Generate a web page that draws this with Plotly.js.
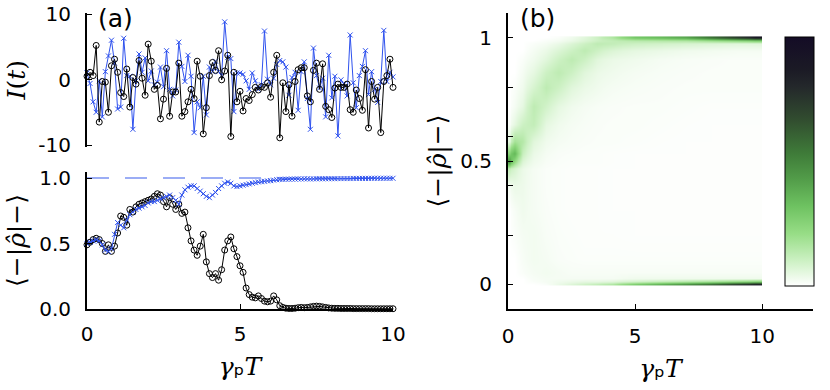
<!DOCTYPE html>
<html>
<head>
<meta charset="utf-8">
<script src="https://cdn.plot.ly/plotly-3.0.1.min.js"></script>
<style>html,body{margin:0;padding:0;background:#fff;}#chart{width:830px;height:390px;}</style>
</head>
<body>
<div id="chart"></div>
<script>
// ---- sample times (gamma_p T) ----
const tGrid = [0,0.1,0.2,0.3,0.4,0.5,0.6,0.7,0.8,0.9,1,1.1,1.2,1.3,1.4,1.5,1.6,1.7,1.8,1.9,2,2.1,2.2,2.3,2.4,2.5,2.6,2.7,2.8,2.9,3,3.1,3.2,3.3,3.4,3.5,3.6,3.7,3.8,3.9,4,4.1,4.2,4.3,4.4,4.5,4.6,4.7,4.8,4.9,5,5.1,5.2,5.3,5.4,5.5,5.6,5.7,5.8,5.9,6,6.1,6.2,6.3,6.4,6.5,6.6,6.7,6.8,6.9,7,7.1,7.2,7.3,7.4,7.5,7.6,7.7,7.8,7.9,8,8.1,8.2,8.3,8.4,8.5,8.6,8.7,8.8,8.9,9,9.1,9.2,9.3,9.4,9.5,9.6,9.7,9.8,9.9,10];

// ---- panel (a) top: measurement current I(t) ----
const currentBlack = [0.5,1.1,0.6,5.2,-6.5,-0.3,-0.4,-5.0,2.1,3.1,1.1,-2.0,-2.6,1.6,-4.2,0.3,-0.7,2.9,0.2,-2.4,5.4,2.8,-1.5,-0.9,-6.0,-3.0,1.7,-5.6,-1.9,-1.9,2.5,-5.6,-4.9,-3.4,-1.5,-2.9,2.8,0.5,-8.3,-4.3,0.6,2.6,1.4,4.4,-0.05,1.3,3.7,-8.7,1.1,-3.4,-1.8,-4.8,-2.9,-3.2,-2.3,-1.2,-1.6,-1.1,-1.2,-0.5,-2.7,1.1,3.7,-8.9,-0.5,-4.9,-0.8,-5.6,-0.3,1.5,1.8,1.8,-2.5,-3.4,1.4,2.5,-1.5,2.4,-4.1,-4.6,-5.8,-1.3,-0.7,-1.2,-1.2,-0.7,-4.6,-5.0,-1.6,-2.9,-4.7,1.5,-7.4,-0.3,-3.0,-1.2,-8.1,-0.3,0.6,3.1,-1.2];
const currentBlue = [1.0,-0.6,-3.4,-5.0,-0.2,-5.7,1.2,3.6,6.0,2.5,-4.5,-4.2,6.3,0.6,0.5,-7.6,-0.2,3.9,1.1,3.3,-0.2,1.3,-0.8,-0.4,1.9,-1.1,4.4,-1.5,-2.5,-1.6,5.7,2.0,-0.3,3.7,0.5,-8.1,-3.4,-4.3,0.5,-5.4,1.9,1.2,2.8,1.2,0.6,8.8,3.4,3.2,-4.9,1.0,1.0,0.8,-0.2,-1.5,1.0,-0.2,-1.5,-0.8,7.4,0.05,-0.8,0.2,2.3,2.9,2.7,1.9,-2.4,0.3,1.1,-4.7,1.2,2.7,-2.9,-7.6,4.8,0.6,-1.3,0.2,-5.7,3.7,-2.8,0.5,-8.6,-0.05,-0.7,-2.5,6.8,-0.5,-4.3,0.6,2.0,4.4,-2.3,1.2,-1.5,-3.5,-0.3,7.5,-0.3,1.1,0.4];

// ---- panel (a) bottom: <-|rho|-> trajectories ----
const popBlack = [0.49,0.51,0.53,0.54,0.53,0.50,0.44,0.49,0.44,0.48,0.58,0.71,0.70,0.64,0.76,0.74,0.78,0.80,0.81,0.82,0.83,0.84,0.86,0.88,0.87,0.82,0.78,0.85,0.80,0.76,0.80,0.73,0.74,0.62,0.52,0.45,0.41,0.48,0.57,0.36,0.27,0.24,0.27,0.22,0.30,0.45,0.52,0.55,0.46,0.40,0.33,0.28,0.16,0.11,0.09,0.085,0.10,0.08,0.06,0.055,0.06,0.10,0.07,0.025,0.012,0.006,0.004,0.004,0.006,0.01,0.012,0.01,0.012,0.016,0.02,0.022,0.02,0.016,0.012,0.008,0.006,0.005,0.005,0.004,0.004,0.004,0.004,0.003,0.003,0.003,0.003,0.003,0.003,0.002,0.002,0.002,0.002,0.002,0.002,0.002,0.002];
const popBlue = [0.50,0.51,0.52,0.53,0.52,0.49,0.45,0.44,0.46,0.57,0.66,0.64,0.62,0.68,0.72,0.74,0.76,0.77,0.78,0.79,0.81,0.82,0.82,0.83,0.84,0.85,0.86,0.87,0.85,0.83,0.80,0.87,0.91,0.93,0.94,0.94,0.92,0.90,0.88,0.86,0.85,0.87,0.89,0.92,0.94,0.96,0.97,0.96,0.94,0.935,0.94,0.945,0.95,0.955,0.96,0.965,0.97,0.972,0.975,0.978,0.98,0.984,0.987,0.99,0.99,0.991,0.991,0.992,0.992,0.993,0.993,0.994,0.994,0.993,0.994,0.994,0.995,0.994,0.995,0.995,0.995,0.995,0.996,0.996,0.996,0.996,0.996,0.997,0.997,0.997,0.997,0.997,0.997,0.998,0.998,0.998,0.998,0.998,0.998,0.998,0.998];
const targetLevel = 1.0;

// ---- panel (b): distribution of <-|rho|-> over time (time-bin edges, 16 bins) ----
const histTEdges = [0,0.125,0.375,0.75,1.25,1.75,2.25,2.75,3.25,3.75,4.5,5.5,6.5,7.5,8.5,9.5,10];
const histY = [0,0.01,0.025,0.05,0.1,0.2,0.3,0.4,0.47,0.5,0.53,0.58,0.65,0.72,0.8,0.86,0.91,0.95,0.975,0.99,1.0];
const histZ = [
  [0,0,0,0,0.01,0.04,0.07,0.10,0.13,0.17,0.30,0.40,0.50,0.62,0.78,0.92],
  [0,0,0,0.01,0.02,0.03,0.04,0.05,0.05,0.06,0.09,0.12,0.15,0.18,0.22,0.26],
  [0,0,0,0.015,0.02,0.02,0.02,0.02,0.02,0.02,0.03,0.03,0.03,0.03,0.03,0.03],
  [0,0,0.01,0.02,0.025,0.02,0.015,0.015,0.015,0.015,0.015,0.015,0.015,0.015,0.015,0.015],
  [0,0,0.015,0.025,0.02,0.012,0.01,0.008,0.008,0.008,0.008,0.008,0.008,0.008,0.008,0.008],
  [0,0.01,0.02,0.025,0.015,0.01,0.008,0.006,0.006,0.006,0.005,0.005,0.005,0.005,0.005,0.005],
  [0,0.015,0.03,0.02,0.012,0.008,0.006,0.006,0.006,0.005,0.005,0.005,0.005,0.005,0.005,0.005],
  [0.02,0.04,0.035,0.02,0.01,0.008,0.006,0.006,0.006,0.005,0.005,0.005,0.005,0.005,0.005,0.005],
  [0.12,0.08,0.04,0.02,0.01,0.008,0.006,0.006,0.006,0.005,0.005,0.005,0.005,0.005,0.005,0.005],
  [0.45,0.22,0.07,0.03,0.015,0.01,0.008,0.008,0.008,0.006,0.005,0.005,0.005,0.005,0.005,0.005],
  [0.25,0.35,0.11,0.04,0.02,0.012,0.01,0.008,0.008,0.006,0.005,0.005,0.005,0.005,0.005,0.005],
  [0.05,0.18,0.15,0.06,0.03,0.02,0.015,0.012,0.01,0.01,0.008,0.006,0.005,0.005,0.005,0.005],
  [0.01,0.05,0.10,0.12,0.05,0.03,0.02,0.015,0.012,0.01,0.01,0.008,0.006,0.005,0.005,0.005],
  [0,0.02,0.05,0.13,0.09,0.05,0.03,0.02,0.015,0.012,0.01,0.01,0.008,0.006,0.006,0.006],
  [0,0.01,0.03,0.08,0.13,0.10,0.06,0.04,0.03,0.02,0.015,0.012,0.01,0.01,0.01,0.01],
  [0,0,0.02,0.05,0.10,0.13,0.10,0.06,0.04,0.03,0.02,0.015,0.012,0.01,0.01,0.01],
  [0,0,0.01,0.03,0.06,0.10,0.13,0.10,0.06,0.04,0.03,0.02,0.015,0.012,0.01,0.01],
  [0,0,0,0.02,0.04,0.07,0.10,0.13,0.10,0.07,0.05,0.04,0.03,0.025,0.02,0.02],
  [0,0,0,0.01,0.02,0.04,0.07,0.10,0.13,0.12,0.10,0.09,0.08,0.07,0.06,0.06],
  [0,0,0,0,0.01,0.02,0.04,0.07,0.10,0.12,0.14,0.15,0.16,0.20,0.24,0.28],
  [0,0,0,0,0,0.01,0.03,0.06,0.10,0.16,0.30,0.34,0.40,0.56,0.72,0.88]
];

// ---- tick labels ----
const topTickVals = [-10,0,10], topTickText = ['-10','0','10'];
const popTickVals = [0,0.5,1], popTickText = ['0.0','0.5','1.0'];
const timeTickVals = [0,5,10], timeTickText = ['0','5','10'];
const histTickVals = [0,0.5,1], histTickText = ['0','0.5','1'];
const histMinorVals = [0.2,0.4,0.6,0.8];

const W = 830, H = 390;
const blue = '#2f52ee', black = '#000000';
const tickFont = {family: 'DejaVu Sans, sans-serif', size: 20, color: '#000'};
const mathFont = {family: 'DejaVu Serif, serif', size: 25, color: '#000'};
const timeTitle = '<i>γ</i><span style="font-family:DejaVu Sans">ₚ</span><i>T</i>';

const green = [
  [0,'#ffffff'],[0.1,'#cdf1c4'],[0.21,'#97dd86'],[0.32,'#6ec261'],[0.43,'#529c49'],
  [0.53,'#3f7c39'],[0.67,'#314c2f'],[0.8,'#24282b'],[0.87,'#1b1a25'],[1,'#140c26']
];

const traces = [
  {x: tGrid, y: currentBlue, xaxis:'x', yaxis:'y', mode:'lines+markers', cliponaxis:false,
   line:{color: blue, width:1}, marker:{symbol:'x-thin-open', size:5, color: blue, line:{color: blue, width:1}}},
  {x: tGrid, y: currentBlack, xaxis:'x', yaxis:'y', mode:'lines+markers', cliponaxis:false,
   line:{color: black, width:1}, marker:{symbol:'circle-open', size:6, color: black, line:{width:1}}},
  {x: tGrid, y: popBlack, xaxis:'x2', yaxis:'y2', mode:'lines+markers', cliponaxis:false,
   line:{color: black, width:1}, marker:{symbol:'circle-open', size:6, color: black, line:{width:1}}},
  {x: tGrid, y: popBlue, xaxis:'x2', yaxis:'y2', mode:'lines+markers', cliponaxis:false,
   line:{color: blue, width:1}, marker:{symbol:'x-thin-open', size:5, color: blue, line:{color: blue, width:1}}},
  {type:'heatmap', x: histTEdges, y: histY, z: histZ, xaxis:'x3', yaxis:'y3', zsmooth:'best',
   zmin:0, zmax:1, colorscale: green, showscale:true,
   colorbar:{thickness:29, thicknessmode:'pixels', len:(286-37)/H, lenmode:'fraction',
     x:785/W, xanchor:'left', y:1-37/H, yanchor:'top', xpad:0, ypad:0,
     outlinewidth:1, outlinecolor:'#000', showticklabels:false, ticks:''}}
];

const axBase = {showgrid:false, zeroline:false, showline:true, linecolor:'#000', linewidth:2,
  ticks:'inside', ticklen:5, tickwidth:1, tickcolor:'#000', tickfont: tickFont, mirror:false};

const layout = {
  width: W, height: H, margin:{l:0,r:0,t:0,b:0},
  paper_bgcolor:'#fff', plot_bgcolor:'rgba(0,0,0,0)', showlegend:false,
  xaxis: Object.assign({}, axBase, {domain:[87/W, 393/W], range:[0,10], anchor:'y',
    showline:false, ticks:'', showticklabels:false}),
  yaxis: Object.assign({}, axBase, {domain:[1-147/H, 1-12.5/H], range:[-10.3,10.23], anchor:'x',
    tickvals: topTickVals, ticktext: topTickText, ticklabelstandoff:10,
    title:{text:'<i>I</i>(<i>t</i>)', font: mathFont, standoff:6}}),
  xaxis2: Object.assign({}, axBase, {domain:[87/W, 393/W], range:[0,10], anchor:'y2',
    tickvals: timeTickVals, ticktext: timeTickText, ticklabelstandoff:6,
    title:{text: timeTitle, font: mathFont, standoff:12}}),
  yaxis2: Object.assign({}, axBase, {domain:[1-309/H, 1-172/H], range:[0,1.046], anchor:'x2',
    tickvals: popTickVals, ticktext: popTickText, ticklabelstandoff:10,
    title:{text:'⟨−|<i>ρ̂</i>|−⟩', font: mathFont, standoff:6}}),
  xaxis3: Object.assign({}, axBase, {domain:[508/W, 813/W], range:[0,12], anchor:'y3',
    tickvals: timeTickVals, ticktext: timeTickText, ticklabelstandoff:8,
    title:{text: timeTitle, font: mathFont, standoff:12}}),
  yaxis3: Object.assign({}, axBase, {domain:[1-309/H, 1-13/H], range:[-0.1,1.1], anchor:'x3',
    tickvals: histTickVals, ticktext: histTickText, ticklabelstandoff:10,
    minor:{tickvals: histMinorVals, ticks:'inside', ticklen:5, tickwidth:1, tickcolor:'#000'},
    title:{text:'⟨−|<i>ρ̂</i>|−⟩', font: mathFont, standoff:6}}),
  shapes: [
    {type:'line', xref:'x2 domain', yref:'y2', x0:0, x1:1, y0:targetLevel, y1:targetLevel,
     line:{color:'#7b93f2', width:1.5, dash:'22px,16px'}, layer:'below'}
  ],
  annotations: [
    {text:'(a)', xref:'paper', yref:'paper', x:96/W, y:1-2/H, xanchor:'left', yanchor:'top',
     showarrow:false, font:{family:'DejaVu Sans, sans-serif', size:25, color:'#000'}},
    {text:'(b)', xref:'paper', yref:'paper', x:518/W, y:1-2/H, xanchor:'left', yanchor:'top',
     showarrow:false, font:{family:'DejaVu Sans, sans-serif', size:25, color:'#000'}}
  ]
};

Plotly.newPlot('chart', traces, layout, {staticPlot:true, displayModeBar:false});
</script>
</body>
</html>
